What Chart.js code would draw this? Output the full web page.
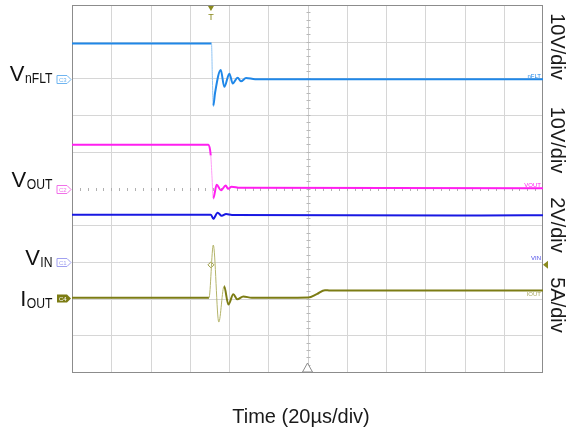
<!DOCTYPE html>
<html>
<head>
<meta charset="utf-8">
<script src="https://cdn.jsdelivr.net/npm/chart.js@4.4.0/dist/chart.umd.min.js"></script>
<style>
  html, body { margin: 0; padding: 0; background: #fff; }
  canvas { display: block; }
</style>
</head>
<body>
<canvas id="scope" width="572" height="432"></canvas>
<script>
// time base: 20 us/div, 12 divisions
const timeMaxUs = 240;
const trigTimeUs = 70.8;
const trigLevelAmps = 4.5;

// channel 3 : nFLT (V)
const nfltTimeUs = [0, 71.1, 71.5, 72.0, 72.9, 75.8, 77.6, 80.2, 81.9, 84.4, 86.1, 88.7, 93.3, 240];
const nfltVolts  = [9.7, 9.7, 0.9, -7.3, -3.7, 2.5, -2.1, 1.5, -1.2, 0.4, -0.6, 0.3, 0, 0];

// channel 2 : VOUT (V)
const voutTimeUs = [0, 69.5, 70.7, 71.3, 72.0, 73.7, 75.9, 78.3, 79.6, 81.3, 85.6, 240];
const voutVolts  = [11.9, 11.9, 9.0, 3.5, -2.7, 1.0, -0.5, 0.8, -0.1, 0.5, 0.2, 0.1];

// channel 1 : VIN (V)
const vinTimeUs = [0, 70.8, 72.0, 74.2, 76.3, 78.5, 81.5, 207.9, 240];
const vinVolts  = [2.57, 2.57, 2.35, 2.68, 2.51, 2.61, 2.56, 2.53, 2.54];

// channel 4 : IOUT (A)
const ioutTimeUs = [0, 69.8, 72.0, 74.8, 77.5, 79.7, 82.2, 84.2, 87.3, 91.6, 120.4, 124.7, 128.9, 131.5, 240];
const ioutAmps   = [0, 0, 7.2, -3.3, 1.6, -0.9, 0.5, -0.2, 0.2, 0, 0.05, 0.5, 1.05, 1.0, 1.0];

// scope settings per channel (units per div, ground position in div)
const chNames   = ['nFLT', 'VOUT', 'VIN', 'IOUT'];
const chUnits   = ['V', 'V', 'V', 'A'];
const chPerDiv  = [10, 10, 2, 5];
const chGround  = [7.98, 5.0, 3.0, 2.02];
const chColors  = ['#1f87e8', '#ff1ff0', '#1818e2', '#7c7c14'];
const chLight   = ['#8ec3f3', '#ff9cf6', '#1818e2', '#b4b46a'];

function toDiv(times, vals, ch) {
  return times.map((t, i) => ({ x: t, y: chGround[ch] + vals[i] / chPerDiv[ch] }));
}

function steep(c) {
  const dx = Math.abs(c.p1.x - c.p0.x), dy = Math.abs(c.p1.y - c.p0.y);
  return dy > 20 && dy > 5 * dx;
}

function trace(label, pts, ch) {
  return {
    label: label,
    data: pts,
    borderColor: chColors[ch],
    borderWidth: 2,
    pointRadius: 0,
    cubicInterpolationMode: 'monotone',
    fill: false,
    segment: {
      borderWidth: c => steep(c) ? 1 : 2,
      borderColor: c => steep(c) ? chLight[ch] : chColors[ch]
    }
  };
}

const FONT = '"Liberation Sans", Arial, sans-serif';

function tag(ctx, x, y, color, filled, text) {
  ctx.beginPath();
  ctx.moveTo(x, y - 4);
  ctx.lineTo(x + 10, y - 4);
  ctx.lineTo(x + 14, y);
  ctx.lineTo(x + 10, y + 4);
  ctx.lineTo(x, y + 4);
  ctx.closePath();
  if (filled) {
    ctx.fillStyle = color;
    ctx.fill();
  } else {
    ctx.fillStyle = '#fff';
    ctx.fill();
    ctx.strokeStyle = color;
    ctx.lineWidth = 1;
    ctx.stroke();
  }
  ctx.font = '6px ' + FONT;
  ctx.fillStyle = filled ? '#fff' : color;
  ctx.textAlign = 'left';
  ctx.textBaseline = 'middle';
  ctx.fillText(text, x + 2, y + 0.5);
}

// main letter + narrow subscript, right aligned
function subLabel(ctx, main, sub, right, base) {
  const squeeze = 0.84;
  ctx.fillStyle = '#111';
  ctx.textBaseline = 'alphabetic';
  ctx.textAlign = 'left';
  ctx.font = '22px ' + FONT;
  const wm = ctx.measureText(main).width;
  ctx.font = '14.5px ' + FONT;
  const ws = ctx.measureText(sub).width * squeeze;
  const x0 = right - wm - ws;
  ctx.font = '22px ' + FONT;
  ctx.fillText(main, x0, base);
  ctx.save();
  ctx.translate(x0 + wm + 0.5, base + 1.5);
  ctx.scale(squeeze, 1);
  ctx.font = '14.5px ' + FONT;
  ctx.fillText(sub, 0, 0);
  ctx.restore();
}

const scopePlugin = {
  id: 'scope',
  beforeDatasetsDraw(chart) {
    const { ctx, chartArea: a, scales: { x, y } } = chart;
    ctx.save();
    ctx.lineWidth = 1;
    ctx.strokeStyle = '#d6d6d6';
    for (let i = 1; i < 12; i++) {
      if (i === 6) continue;
      const px = Math.round(x.getPixelForValue(i * 20)) + 0.5;
      ctx.beginPath(); ctx.moveTo(px, a.top); ctx.lineTo(px, a.bottom); ctx.stroke();
    }
    for (let j = 1; j < 10; j++) {
      if (j === 5) continue;
      const py = Math.round(y.getPixelForValue(j)) + 0.5;
      ctx.beginPath(); ctx.moveTo(a.left, py); ctx.lineTo(a.right, py); ctx.stroke();
    }
    // centre cross with minor ticks
    const cx = Math.round(x.getPixelForValue(timeMaxUs / 2)) + 0.5;
    const cy = Math.round(y.getPixelForValue(5)) + 0.5;
    ctx.strokeStyle = '#cfcfcf';
    ctx.beginPath(); ctx.moveTo(cx, a.top); ctx.lineTo(cx, a.bottom); ctx.stroke();
    ctx.strokeStyle = '#b8b8b8';
    for (let k = 1; k < 50; k++) {
      const py = Math.round(y.getPixelForValue(k * 0.2)) + 0.5;
      ctx.beginPath(); ctx.moveTo(cx - 2, py); ctx.lineTo(cx + 2, py); ctx.stroke();
    }
    ctx.fillStyle = '#b0b0b0';
    for (let k = 1; k < 60; k++) {
      const px = Math.round(x.getPixelForValue(k * 4));
      ctx.fillRect(px, cy - 1.5, 1, 3);
    }
    ctx.strokeStyle = '#8c8c8c';
    ctx.strokeRect(a.left + 0.5, a.top + 0.5, a.right - a.left - 1, a.bottom - a.top);
    ctx.restore();
  },
  afterDatasetsDraw(chart) {
    const { ctx, chartArea: a, scales: { x, y } } = chart;
    ctx.save();

    // channel ground tags on the left
    const tagText = ['C3', 'C2', 'C1', 'C4'];
    const tagCol = ['#6fb4f0', '#f070e8', '#a0a0f0', chColors[3]];
    for (let c = 0; c < 4; c++) {
      const py = Math.round(y.getPixelForValue(chGround[c])) + 0.5;
      tag(ctx, a.left - 15, py, tagCol[c], c === 3, tagText[c]);
    }

    // channel names
    subLabel(ctx, 'V', 'nFLT', 52, 81);
    subLabel(ctx, 'V', 'OUT', 52, 187);
    subLabel(ctx, 'V', 'IN', 52, 265);
    subLabel(ctx, 'I', 'OUT', 52, 306);

    // small names at the right end of traces
    ctx.font = '6px ' + FONT;
    ctx.textAlign = 'right';
    ctx.textBaseline = 'alphabetic';
    const endCol = ['#1f87e8', '#ff1ff0', '#4a4ae8', '#a8a860'];
    for (let c = 0; c < 4; c++) {
      const py = y.getPixelForValue(chGround[c]);
      ctx.fillStyle = endCol[c];
      ctx.fillText(chNames[c], a.right - 2, py - 1.5);
    }

    // trigger position marker
    const tx = x.getPixelForValue(trigTimeUs);
    ctx.fillStyle = '#8a8a1e';
    ctx.beginPath();
    ctx.moveTo(tx - 3, a.top + 1); ctx.lineTo(tx + 3, a.top + 1); ctx.lineTo(tx, a.top + 6);
    ctx.closePath(); ctx.fill();
    ctx.font = '9px ' + FONT;
    ctx.textAlign = 'center';
    ctx.fillText('T', tx, a.top + 15);

    // trigger level marker on the right
    const ty = y.getPixelForValue(chGround[3] + trigLevelAmps / chPerDiv[3]);
    ctx.beginPath();
    ctx.moveTo(a.right, ty); ctx.lineTo(a.right + 5, ty - 4); ctx.lineTo(a.right + 5, ty + 4);
    ctx.closePath(); ctx.fill();

    // horizontal position marker at bottom
    const hx = x.getPixelForValue(timeMaxUs / 2);
    ctx.strokeStyle = '#8c8c8c';
    ctx.fillStyle = '#fff';
    ctx.beginPath();
    ctx.moveTo(hx - 5, a.bottom); ctx.lineTo(hx + 5, a.bottom); ctx.lineTo(hx, a.bottom - 9);
    ctx.closePath(); ctx.fill(); ctx.stroke();

    // volts/div labels
    ctx.fillStyle = '#1a1a1a';
    ctx.font = '20px ' + FONT;
    ctx.textAlign = 'center';
    ctx.textBaseline = 'middle';
    const divY = [46.5, 140, 225, 305];
    for (let c = 0; c < 4; c++) {
      ctx.save();
      ctx.translate(557, divY[c]);
      ctx.rotate(Math.PI / 2);
      ctx.fillText(chPerDiv[c] + chUnits[c] + '/div', 0, 0);
      ctx.restore();
    }

    ctx.textBaseline = 'alphabetic';
    ctx.fillText('Time (20\u00b5s/div)', 301, 423);
    ctx.restore();
  }
};

new Chart(document.getElementById('scope'), {
  type: 'line',
  data: {
    datasets: [
      trace('VnFLT', toDiv(nfltTimeUs, nfltVolts, 0), 0),
      trace('VOUT', toDiv(voutTimeUs, voutVolts, 1), 1),
      trace('VIN', toDiv(vinTimeUs, vinVolts, 2), 2),
      trace('IOUT', toDiv(ioutTimeUs, ioutAmps, 3), 3),
      {
        label: 'trigger',
        data: [{ x: trigTimeUs, y: chGround[3] + trigLevelAmps / chPerDiv[3] }],
        showLine: false,
        pointStyle: 'rectRot',
        pointRadius: 3,
        pointBorderWidth: 1,
        pointBorderColor: '#9a9a40',
        pointBackgroundColor: 'rgba(255,255,255,0.6)'
      }
    ]
  },
  options: {
    responsive: false,
    animation: false,
    events: [],
    layout: { padding: { left: 72, right: 29, top: 4, bottom: 60 } },
    scales: {
      x: { type: 'linear', min: 0, max: timeMaxUs, display: false },
      y: { min: 0, max: 10, display: false }
    },
    plugins: {
      legend: { display: false },
      tooltip: { enabled: false }
    }
  },
  plugins: [scopePlugin]
});
</script>
</body>
</html>
